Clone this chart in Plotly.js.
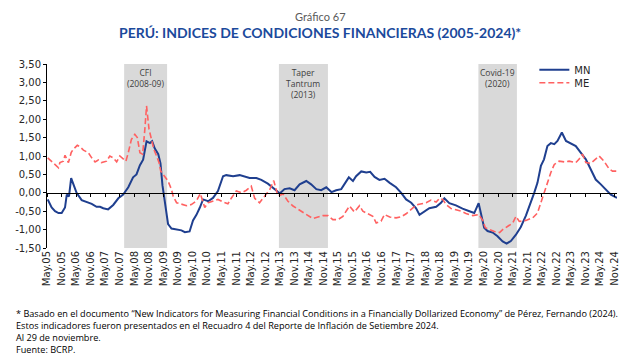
<!DOCTYPE html>
<html>
<head>
<meta charset="utf-8">
<script src="https://cdn.plot.ly/plotly-3.0.1.min.js"></script>
<style>html,body{margin:0;padding:0;background:#fff;}#chart{width:640px;height:360px;}</style>
</head>
<body>
<div id="chart"></div>
<script>
// ---- Data ----
const mnDates = ['2005-05-10','2005-06-28','2005-08-10','2005-09-22','2005-11-01','2005-12-13','2006-01-04','2006-02-01','2006-02-28','2006-04-04','2006-05-07','2006-07-10','2006-09-10','2006-11-13','2007-01-13','2007-02-25','2007-04-07','2007-06-07','2007-08-10','2007-10-13','2007-12-13','2008-02-15','2008-04-15','2008-05-28','2008-07-10','2008-08-19','2008-10-01','2008-11-13','2008-12-10','2009-01-13','2009-02-25','2009-03-25','2009-04-19','2009-05-19','2009-06-28','2009-08-10','2009-10-13','2009-12-13','2010-01-25','2010-03-25','2010-05-07','2010-06-19','2010-08-01','2010-09-10','2010-11-13','2011-01-13','2011-03-16','2011-05-19','2011-06-28','2011-09-22','2011-12-13','2012-02-16','2012-04-16','2012-07-10','2012-09-10','2012-12-01','2013-02-04','2013-03-25','2013-04-28','2013-06-28','2013-09-01','2013-11-01','2014-01-04','2014-03-28','2014-05-28','2014-08-01','2014-10-01','2014-12-04','2015-02-07','2015-04-07','2015-06-10','2015-07-19','2015-09-13','2015-11-04','2015-12-13','2016-02-16','2016-04-19','2016-06-07','2016-08-01','2016-10-01','2016-12-04','2017-02-07','2017-04-28','2017-07-01','2017-09-01','2017-11-04','2018-01-04','2018-02-16','2018-04-19','2018-06-19','2018-09-13','2018-11-13','2018-12-25','2019-02-25','2019-05-19','2019-08-10','2019-11-04','2020-01-04','2020-02-28','2020-03-28','2020-05-07','2020-06-19','2020-08-22','2020-10-22','2020-12-25','2021-02-13','2021-04-07','2021-06-10','2021-08-10','2021-10-13','2021-12-16','2022-01-25','2022-03-07','2022-04-19','2022-05-28','2022-07-10','2022-08-22','2022-10-04','2022-11-13','2023-01-07','2023-02-28','2023-04-28','2023-07-01','2023-09-01','2023-11-04','2024-01-04','2024-03-07','2024-05-10','2024-07-10','2024-09-13','2024-11-29'];
const mnValues = [-0.18,-0.40,-0.50,-0.55,-0.55,-0.40,-0.05,-0.10,0.40,0.20,0.00,-0.20,-0.25,-0.30,-0.38,-0.38,-0.42,-0.45,-0.33,-0.15,-0.05,0.15,0.42,0.50,0.75,0.90,1.40,1.35,1.40,1.20,1.05,0.80,0.20,-0.30,-0.85,-0.97,-1.00,-1.02,-1.07,-1.05,-0.75,-0.60,-0.40,-0.18,-0.23,-0.14,0.05,0.45,0.48,0.45,0.48,0.43,0.40,0.40,0.35,0.25,0.15,0.05,-0.02,0.10,0.12,0.07,0.23,0.32,0.23,0.10,0.07,0.15,0.02,0.07,0.10,0.23,0.42,0.32,0.45,0.58,0.55,0.57,0.43,0.35,0.38,0.27,0.15,0.00,-0.18,-0.27,-0.42,-0.60,-0.50,-0.42,-0.38,-0.27,-0.15,-0.28,-0.34,-0.43,-0.50,-0.55,-0.28,-0.60,-0.95,-1.04,-1.08,-1.18,-1.32,-1.38,-1.31,-1.14,-0.93,-0.62,-0.27,0.00,0.27,0.73,0.91,1.27,1.35,1.32,1.41,1.64,1.41,1.35,1.27,1.09,0.91,0.64,0.36,0.23,0.09,-0.05,-0.14];

const meDates = ['2005-05-10','2005-06-28','2005-08-10','2005-09-22','2005-10-10','2005-11-22','2005-12-13','2006-01-25','2006-02-28','2006-03-25','2006-05-16','2006-06-19','2006-08-01','2006-10-01','2006-11-13','2006-12-25','2007-02-04','2007-03-16','2007-05-19','2007-06-28','2007-08-10','2007-09-22','2007-11-01','2007-12-22','2008-01-16','2008-02-15','2008-03-25','2008-05-07','2008-06-07','2008-07-10','2008-08-13','2008-09-10','2008-10-01','2008-11-01','2008-12-04','2009-01-01','2009-02-04','2009-03-07','2009-03-28','2009-05-19','2009-06-28','2009-08-10','2009-09-01','2009-10-13','2009-12-13','2010-02-16','2010-04-16','2010-06-19','2010-08-07','2010-09-10','2010-10-01','2010-11-13','2011-01-13','2011-03-16','2011-05-19','2011-07-19','2011-09-01','2011-11-01','2012-01-04','2012-03-07','2012-05-07','2012-06-19','2012-08-19','2012-10-22','2012-12-25','2013-02-13','2013-04-07','2013-06-10','2013-08-10','2013-10-13','2014-01-04','2014-03-28','2014-06-19','2014-08-22','2014-10-22','2014-12-25','2015-02-25','2015-04-28','2015-07-01','2015-08-10','2015-09-22','2015-11-22','2016-01-25','2016-03-07','2016-05-07','2016-07-10','2016-08-22','2016-10-22','2016-12-04','2017-02-07','2017-04-28','2017-07-01','2017-09-01','2017-11-25','2018-01-28','2018-05-10','2018-07-10','2018-09-13','2018-10-25','2018-12-04','2019-01-16','2019-03-19','2019-05-19','2019-07-22','2019-09-22','2019-12-16','2020-03-01','2020-04-19','2020-05-22','2020-07-13','2020-09-13','2020-11-16','2020-12-25','2021-02-28','2021-05-01','2021-06-10','2021-07-22','2021-10-13','2022-01-07','2022-03-07','2022-04-19','2022-05-28','2022-07-10','2022-08-22','2022-10-04','2022-12-04','2023-02-07','2023-04-07','2023-07-01','2023-08-10','2023-09-22','2023-11-04','2024-01-04','2024-03-07','2024-04-19','2024-06-19','2024-08-22','2024-10-04','2024-11-29'];
const meValues = [0.95,0.86,0.77,0.68,0.82,0.86,1.02,0.82,1.09,1.18,1.29,1.25,1.16,1.09,0.95,0.84,0.89,0.82,0.86,1.00,0.95,0.84,1.00,0.91,0.86,1.09,1.45,1.59,1.50,1.09,1.05,1.73,2.36,1.73,1.41,1.18,1.00,0.82,0.59,0.45,0.32,0.09,-0.10,-0.27,-0.30,-0.35,-0.32,-0.22,-0.02,-0.30,-0.40,-0.27,-0.23,-0.18,-0.25,-0.30,-0.14,0.05,0.00,0.07,0.18,-0.15,-0.27,-0.10,0.09,0.33,-0.09,-0.03,-0.23,-0.36,-0.47,-0.60,-0.70,-0.66,-0.62,-0.62,-0.73,-0.73,-0.64,-0.50,-0.36,-0.52,-0.35,-0.50,-0.57,-0.64,-0.82,-0.77,-0.59,-0.66,-0.68,-0.65,-0.57,-0.41,-0.32,-0.27,-0.20,-0.25,-0.15,-0.18,-0.32,-0.43,-0.46,-0.50,-0.56,-0.62,-0.59,-0.75,-0.95,-1.00,-1.05,-1.08,-1.00,-0.91,-0.82,-0.64,-0.78,-0.75,-0.68,-0.55,-0.27,0.00,0.27,0.55,0.77,0.86,0.84,0.86,0.82,0.91,1.05,0.82,0.80,0.93,1.00,0.86,0.65,0.59,0.59];

const seriesNames = ['MN', 'ME'];

const bandStarts = ['2007-12-25', '2013-04-19', '2020-02-25'];
const bandEnds   = ['2009-06-16', '2014-12-25', '2021-06-22'];
const bandLabels = ['CFI<br>(2008-09)', 'Taper<br>Tantrum<br>(2013)', 'Covid-19<br>(2020)'];

const xTickDates = ['2005-05-01','2005-11-01','2006-05-01','2006-11-01','2007-05-01','2007-11-01','2008-05-01','2008-11-01','2009-05-01','2009-11-01','2010-05-01','2010-11-01','2011-05-01','2011-11-01','2012-05-01','2012-11-01','2013-05-01','2013-11-01','2014-05-01','2014-11-01','2015-05-01','2015-11-01','2016-05-01','2016-11-01','2017-05-01','2017-11-01','2018-05-01','2018-11-01','2019-05-01','2019-11-01','2020-05-01','2020-11-01','2021-05-01','2021-11-01','2022-05-01','2022-11-01','2023-05-01','2023-11-01','2024-05-01','2024-11-01'];
const xTickLabels = ['May.05','Nov.05','May.06','Nov.06','May.07','Nov.07','May.08','Nov.08','May.09','Nov.09','May.10','Nov.10','May.11','Nov.11','May.12','Nov.12','May.13','Nov.13','May.14','Nov.14','May.15','Nov.15','May.16','Nov.16','May.17','Nov.17','May.18','Nov.18','May.19','Nov.19','May.20','Nov.20','May.21','Nov.21','May.22','Nov.22','May.23','Nov.23','May.24','Nov.24'];

const yTickVals = [-1.5, -1.0, -0.5, 0, 0.5, 1.0, 1.5, 2.0, 2.5, 3.0, 3.5];
const yTickLabels = ['-1,50','-1,00','-0,50','0,00','0,50','1,00','1,50','2,00','2,50','3,00','3,50'];

const chartSubtitle = 'Gráfico 67';
const chartTitle = 'PERÚ: INDICES DE CONDICIONES FINANCIERAS (2005-2024)*';
const footnoteLines = [
  '* Basado en el documento “New Indicators for Measuring Financial Conditions in a Financially Dollarized Economy” de Pérez, Fernando (2024).',
  'Estos indicadores fueron presentados en el Recuadro 4 del Reporte de Inflación de Setiembre 2024.',
  'Al 29 de noviembre.',
  'Fuente: BCRP.'
];

// ---- Figure ----
const xRange = ['2005-05-01', '2024-11-29'];
const axisFont = {family: 'DejaVu Sans', size: 10, color: '#262626'};

const traces = [
  {x: mnDates, y: mnValues, name: seriesNames[0], type: 'scatter', mode: 'lines',
   line: {color: '#1f3f8f', width: 2}, xaxis: 'x', yaxis: 'y', legend: 'legend'},
  {x: meDates, y: meValues, name: seriesNames[1], type: 'scatter', mode: 'lines',
   line: {color: '#ff6161', width: 1.6, dash: '6px,3px'}, xaxis: 'x2', yaxis: 'y', legend: 'legend2'}
];

const shapes = bandStarts.map((s, i) => ({
  type: 'rect', xref: 'x', yref: 'y', x0: s, x1: bandEnds[i], y0: -1.5, y1: 3.5,
  fillcolor: '#d9d9d9', line: {width: 0}, layer: 'below'
}));

const annotations = bandLabels.map((t, i) => {
  const a = new Date(bandStarts[i]).getTime(), b = new Date(bandEnds[i]).getTime();
  return {
    xref: 'x', yref: 'paper', x: new Date((a + b) / 2).toISOString().slice(0, 10), y: 0.995,
    xanchor: 'center', yanchor: 'top', text: t, showarrow: false,
    font: {family: 'Open Sans', size: 8.5, color: '#404040'}
  };
});
annotations.push({
  xref: 'paper', yref: 'paper', x: 0.479, y: 1.258, xanchor: 'center', yanchor: 'middle',
  text: chartSubtitle, showarrow: false,
  font: {family: 'Lato, Roboto, sans-serif', size: 11, color: '#595959'}
});
annotations.push({
  xref: 'paper', yref: 'paper', x: 0.479, y: 1.171, xanchor: 'center', yanchor: 'middle',
  text: '<b>' + chartTitle + '</b>', showarrow: false,
  font: {family: 'Lato, Roboto, sans-serif', size: 14, color: '#1b4a9c'}
});
const footTopPx = 313, footStepPx = 12, plotTopPx = 64, plotHPx = 184;
footnoteLines.forEach((t, i) => {
  annotations.push({
    xref: 'paper', yref: 'paper', x: -0.058, y: 1 - (footTopPx + i * footStepPx - plotTopPx) / plotHPx,
    xanchor: 'left', yanchor: 'middle', align: 'left', text: t, showarrow: false,
    font: {family: 'Open Sans', size: 9.15, color: '#000000'}
  });
});

const legendFont = {family: 'DejaVu Sans', size: 10, color: '#262626'};
const layout = {
  width: 640, height: 360,
  margin: {l: 47, r: 23, t: 64, b: 112, pad: 0},
  paper_bgcolor: '#ffffff', plot_bgcolor: '#ffffff',
  showlegend: true,
  legend: {x: 0.855, y: 0.969, xanchor: 'left', yanchor: 'middle', bgcolor: 'rgba(0,0,0,0)', font: legendFont},
  legend2: {x: 0.855, y: 0.898, xanchor: 'left', yanchor: 'middle', bgcolor: 'rgba(0,0,0,0)', font: legendFont},
  xaxis: {type: 'date', range: xRange, tickmode: 'array', tickvals: xTickDates, ticktext: xTickLabels,
          tickangle: -90, tickfont: axisFont, showgrid: false, zeroline: false, showline: false,
          ticks: '', fixedrange: true},
  xaxis2: {type: 'date', range: xRange, overlaying: 'x', anchor: 'free', position: 0.3, side: 'bottom',
           tickmode: 'array', tickvals: xTickDates, showticklabels: false,
           showline: true, linecolor: '#000000', linewidth: 1,
           ticks: 'outside', ticklen: 3, tickcolor: '#000000', showgrid: false, zeroline: false},
  yaxis: {range: [-1.5, 3.5], tickmode: 'array', tickvals: yTickVals, ticktext: yTickLabels,
          tickfont: axisFont, showgrid: false, zeroline: false, showline: true,
          linecolor: '#000000', linewidth: 1, ticks: 'outside', ticklen: 3, tickcolor: '#000000'},
  shapes: shapes,
  annotations: annotations
};

Plotly.newPlot('chart', traces, layout, {displayModeBar: false, staticPlot: true});
</script>
</body>
</html>
